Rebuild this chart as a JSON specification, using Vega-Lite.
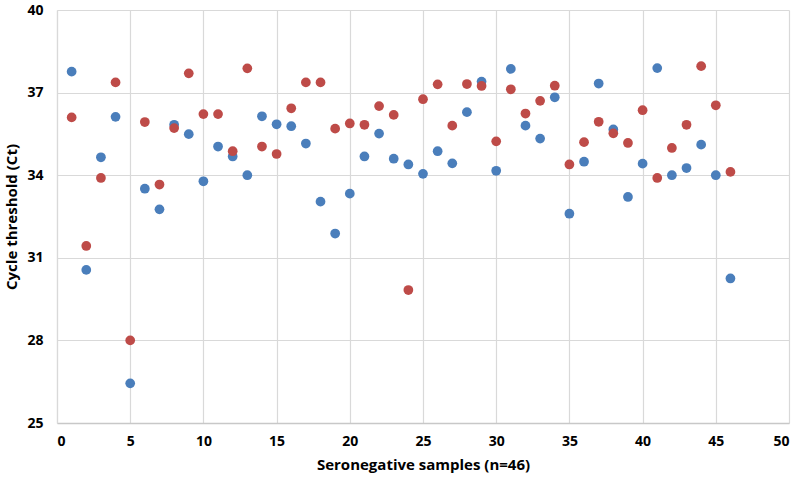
{
  "$schema": "https://vega.github.io/schema/vega-lite/v6.json",
  "width": 732,
  "height": 413,
  "autosize": {"type": "none"},
  "padding": {"left": 57, "top": 10, "right": 11, "bottom": 60},
  "background": "white",
  "config": {
    "view": {"stroke": null},
    "font": "Open Sans"
  },
  "datasets": {
    "pts": [
      {"sample": 1, "ct": 37.76, "series": "Series 1"},
      {"sample": 2, "ct": 30.56, "series": "Series 1"},
      {"sample": 3, "ct": 34.65, "series": "Series 1"},
      {"sample": 4, "ct": 36.12, "series": "Series 1"},
      {"sample": 5, "ct": 26.44, "series": "Series 1"},
      {"sample": 6, "ct": 33.51, "series": "Series 1"},
      {"sample": 7, "ct": 32.76, "series": "Series 1"},
      {"sample": 8, "ct": 35.83, "series": "Series 1"},
      {"sample": 9, "ct": 35.49, "series": "Series 1"},
      {"sample": 10, "ct": 33.78, "series": "Series 1"},
      {"sample": 11, "ct": 35.04, "series": "Series 1"},
      {"sample": 12, "ct": 34.68, "series": "Series 1"},
      {"sample": 13, "ct": 34.0, "series": "Series 1"},
      {"sample": 14, "ct": 36.14, "series": "Series 1"},
      {"sample": 15, "ct": 35.85, "series": "Series 1"},
      {"sample": 16, "ct": 35.78, "series": "Series 1"},
      {"sample": 17, "ct": 35.15, "series": "Series 1"},
      {"sample": 18, "ct": 33.04, "series": "Series 1"},
      {"sample": 19, "ct": 31.88, "series": "Series 1"},
      {"sample": 20, "ct": 33.33, "series": "Series 1"},
      {"sample": 21, "ct": 34.68, "series": "Series 1"},
      {"sample": 22, "ct": 35.51, "series": "Series 1"},
      {"sample": 23, "ct": 34.6, "series": "Series 1"},
      {"sample": 24, "ct": 34.39, "series": "Series 1"},
      {"sample": 25, "ct": 34.05, "series": "Series 1"},
      {"sample": 26, "ct": 34.87, "series": "Series 1"},
      {"sample": 27, "ct": 34.43, "series": "Series 1"},
      {"sample": 28, "ct": 36.29, "series": "Series 1"},
      {"sample": 29, "ct": 37.4, "series": "Series 1"},
      {"sample": 30, "ct": 34.16, "series": "Series 1"},
      {"sample": 31, "ct": 37.86, "series": "Series 1"},
      {"sample": 32, "ct": 35.8, "series": "Series 1"},
      {"sample": 33, "ct": 35.33, "series": "Series 1"},
      {"sample": 34, "ct": 36.83, "series": "Series 1"},
      {"sample": 35, "ct": 32.6, "series": "Series 1"},
      {"sample": 36, "ct": 34.49, "series": "Series 1"},
      {"sample": 37, "ct": 37.33, "series": "Series 1"},
      {"sample": 38, "ct": 35.66, "series": "Series 1"},
      {"sample": 39, "ct": 33.21, "series": "Series 1"},
      {"sample": 40, "ct": 34.42, "series": "Series 1"},
      {"sample": 41, "ct": 37.89, "series": "Series 1"},
      {"sample": 42, "ct": 34.0, "series": "Series 1"},
      {"sample": 43, "ct": 34.26, "series": "Series 1"},
      {"sample": 44, "ct": 35.11, "series": "Series 1"},
      {"sample": 45, "ct": 34.0, "series": "Series 1"},
      {"sample": 46, "ct": 30.25, "series": "Series 1"},
      {"sample": 1, "ct": 36.1, "series": "Series 2"},
      {"sample": 2, "ct": 31.43, "series": "Series 2"},
      {"sample": 3, "ct": 33.9, "series": "Series 2"},
      {"sample": 4, "ct": 37.37, "series": "Series 2"},
      {"sample": 5, "ct": 28.0, "series": "Series 2"},
      {"sample": 6, "ct": 35.93, "series": "Series 2"},
      {"sample": 7, "ct": 33.66, "series": "Series 2"},
      {"sample": 8, "ct": 35.71, "series": "Series 2"},
      {"sample": 9, "ct": 37.7, "series": "Series 2"},
      {"sample": 10, "ct": 36.22, "series": "Series 2"},
      {"sample": 11, "ct": 36.22, "series": "Series 2"},
      {"sample": 12, "ct": 34.87, "series": "Series 2"},
      {"sample": 13, "ct": 37.88, "series": "Series 2"},
      {"sample": 14, "ct": 35.04, "series": "Series 2"},
      {"sample": 15, "ct": 34.77, "series": "Series 2"},
      {"sample": 16, "ct": 36.43, "series": "Series 2"},
      {"sample": 17, "ct": 37.37, "series": "Series 2"},
      {"sample": 18, "ct": 37.37, "series": "Series 2"},
      {"sample": 19, "ct": 35.69, "series": "Series 2"},
      {"sample": 20, "ct": 35.88, "series": "Series 2"},
      {"sample": 21, "ct": 35.83, "series": "Series 2"},
      {"sample": 22, "ct": 36.51, "series": "Series 2"},
      {"sample": 23, "ct": 36.19, "series": "Series 2"},
      {"sample": 24, "ct": 29.83, "series": "Series 2"},
      {"sample": 25, "ct": 36.76, "series": "Series 2"},
      {"sample": 26, "ct": 37.3, "series": "Series 2"},
      {"sample": 27, "ct": 35.8, "series": "Series 2"},
      {"sample": 28, "ct": 37.31, "series": "Series 2"},
      {"sample": 29, "ct": 37.24, "series": "Series 2"},
      {"sample": 30, "ct": 35.23, "series": "Series 2"},
      {"sample": 31, "ct": 37.12, "series": "Series 2"},
      {"sample": 32, "ct": 36.24, "series": "Series 2"},
      {"sample": 33, "ct": 36.7, "series": "Series 2"},
      {"sample": 34, "ct": 37.25, "series": "Series 2"},
      {"sample": 35, "ct": 34.39, "series": "Series 2"},
      {"sample": 36, "ct": 35.2, "series": "Series 2"},
      {"sample": 37, "ct": 35.94, "series": "Series 2"},
      {"sample": 38, "ct": 35.52, "series": "Series 2"},
      {"sample": 39, "ct": 35.17, "series": "Series 2"},
      {"sample": 40, "ct": 36.36, "series": "Series 2"},
      {"sample": 41, "ct": 33.9, "series": "Series 2"},
      {"sample": 42, "ct": 34.99, "series": "Series 2"},
      {"sample": 43, "ct": 35.83, "series": "Series 2"},
      {"sample": 44, "ct": 37.96, "series": "Series 2"},
      {"sample": 45, "ct": 36.54, "series": "Series 2"},
      {"sample": 46, "ct": 34.12, "series": "Series 2"}
    ]
  },
  "data": {"name": "pts"},
  "mark": {"type": "point", "filled": true, "opacity": 1, "size": 95, "shape": "circle"},
  "encoding": {
    "x": {
      "field": "sample",
      "type": "quantitative",
      "scale": {"domain": [0, 50], "nice": false, "zero": false},
      "axis": {
        "title": "Seronegative samples (n=46)",
        "values": [0, 5, 10, 15, 20, 25, 30, 35, 40, 45, 50],
        "grid": true,
        "gridColor": "#D9D9D9",
        "gridWidth": 1.2,
        "domainColor": "#C8C8C8",
        "domainWidth": 1.5,
        "ticks": false,
        "labelPadding": 11,
        "labelFontSize": 14,
        "labelFontWeight": "bold",
        "labelColor": "#000000",
        "titleFontSize": 15,
        "titleFontWeight": "bold",
        "titleColor": "#000000",
        "titlePadding": 9
      }
    },
    "y": {
      "field": "ct",
      "type": "quantitative",
      "scale": {"domain": [25, 40], "nice": false, "zero": false},
      "axis": {
        "title": "Cycle threshold (Ct)",
        "values": [25, 28, 31, 34, 37, 40],
        "grid": true,
        "gridColor": "#D9D9D9",
        "gridWidth": 1.2,
        "domainColor": "#D9D9D9",
        "domainWidth": 1.2,
        "ticks": false,
        "labelPadding": 14,
        "labelFontSize": 14,
        "labelFontWeight": "bold",
        "labelColor": "#000000",
        "titleFontSize": 15,
        "titleFontWeight": "bold",
        "titleColor": "#000000",
        "titlePadding": 7
      }
    },
    "color": {
      "field": "series",
      "type": "nominal",
      "scale": {"domain": ["Series 1", "Series 2"], "range": ["#4A7EBB", "#BE4B48"]},
      "legend": null
    }
  }
}
